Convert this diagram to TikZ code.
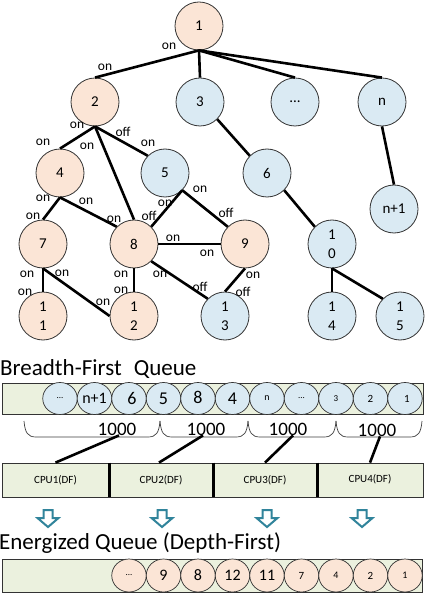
\documentclass[tikz,border=0pt]{standalone}
\usepackage{fontspec}
\setmainfont{Carlito}
\usetikzlibrary{shapes.geometric}
\definecolor{peachc}{HTML}{FBE5D6}
\definecolor{bluec}{HTML}{DAEAF3}
\definecolor{barc}{HTML}{EBF1DE}
\definecolor{tealc}{HTML}{31849B}
\begin{document}
\begin{tikzpicture}[x=1pt,y=-1pt,
  tn/.style={circle,draw=black!80,line width=0.8pt,minimum size=48pt,inner sep=0pt,align=center,font=\fontsize{15}{19}\selectfont},
  pn/.style={tn,fill=peachc},
  bn/.style={tn,fill=bluec},
  edge/.style={line width=2.6pt,black},
  lab/.style={inner sep=0pt,font=\fontsize{13.5}{14}\selectfont},
  barbox/.style={rectangle,draw=black!80,line width=0.8pt,fill=barc,inner sep=0pt},
  qn/.style={ellipse,draw=black!80,line width=0.7pt,minimum width=34.5pt,minimum height=32pt,inner sep=0pt},
  qb/.style={qn,fill=bluec},
  qp/.style={qn,fill=peachc},
  brace/.style={draw=black!75,line width=0.7pt},
  thou/.style={inner sep=0pt,font=\fontsize{19}{19}\selectfont},
  cpu/.style={rectangle,draw=black!80,line width=0.8pt,fill=barc,minimum height=34pt,inner sep=0pt,font=\fontsize{11}{11}\selectfont},
  ttl/.style={inner sep=0pt,anchor=base west,font=\fontsize{23}{23}\selectfont},
  darrow/.style={draw=tealc,line width=2pt,fill=white,line join=miter}
]
\path[use as bounding box,fill=white] (0,0) rectangle (426,593);

% ---------- tree ----------
\node[pn] (n1) at (199,26) {1};
\node[pn] (n2) at (95,102) {2};
\node[bn] (n3) at (200,102) {3};
\node[bn] (nd) at (295,102) {...};
\node[bn] (nn) at (382,102) {n};
\node[pn] (n4) at (60,173) {4};
\node[bn] (n5) at (165,173) {5};
\node[bn] (n6) at (267,173) {6};
\node[bn] (nn1) at (394,209) {n+1};
\node[pn] (n7) at (43,244) {7};
\node[pn] (n8) at (134,244) {8};
\node[pn] (n9) at (245,244) {9};
\node[bn] (n10) at (332,244) {1\\0};
\node[pn] (n11) at (43,316) {1\\1};
\node[pn] (n12) at (134,316) {1\\2};
\node[bn] (n13) at (225,316) {1\\3};
\node[bn] (n14) at (332,316) {1\\4};
\node[bn] (n15) at (400,316) {1\\5};

\draw[edge] (n1.south) -- (n2.north);
\draw[edge] (n1.south) -- (n3.north);
\draw[edge] (n1.south) -- (nd.north);
\draw[edge] (n1.south) -- (nn.north);
\draw[edge] (n2.south) -- (n4.north);
\draw[edge] (n2.south) -- (n8.north);
\draw[edge] (n2.south) -- (n5.135);
\draw[edge] (n3.-45) -- (n6.135);
\draw[edge] (nn.south) -- (nn1.north);
\draw[edge] (n4.south) -- (n7.north);
\draw[edge] (n4.south) -- (n8.135);
\draw[edge] (n5.-45) -- (n8.45);
\draw[edge] (n5.-45) -- (n9.135);
\draw[edge] (n6.-45) -- (n10.135);
\draw[edge] (n8.east) -- (n9.west);
\draw[edge] (n7.south) -- (n11.north);
\draw[edge] (n7.south) -- (n12.west);
\draw[edge] (n8.south) -- (n12.north);
\draw[edge] (n8.-45) -- (n13.135);
\draw[edge] (n9.south) -- (n13.north);
\draw[edge] (n10.south) -- (n14.north);
\draw[edge] (n10.south) -- (n15.135);

\node[lab] (l1) at (169,46) {on};
\node[lab] (l2) at (105,67) {on};
\node[lab] (l3) at (77,125) {on};
\node[lab] (l4) at (123,132) {off};
\node[lab] (l5) at (43,142) {on};
\node[lab] (l6) at (87,146) {on};
\node[lab] (l7) at (148,143) {on};
\node[lab] (l8) at (43,198) {on};
\node[lab] (l9) at (86,201) {on};
\node[lab] (l10) at (33,216) {on};
\node[lab] (l11) at (114,219) {on};
\node[lab] (l12) at (149,216) {off};
\node[lab] (l13) at (165,203) {on};
\node[lab] (l14) at (200,189) {on};
\node[lab] (l15) at (226,213) {off};
\node[lab] (l16) at (173,238) {on};
\node[lab] (l17) at (207,253) {on};
\node[lab] (l18) at (27,274) {on};
\node[lab] (l19) at (62,273) {on};
\node[lab] (l20) at (25,292) {on};
\node[lab] (l21) at (103,302) {on};
\node[lab] (l22) at (121,274) {on};
\node[lab] (l23) at (121,290) {on};
\node[lab] (l24) at (160,274) {on};
\node[lab] (l25) at (200,287) {off};
\node[lab] (l26) at (253,275) {on};
\node[lab] (l27) at (243,292) {off};

% ---------- breadth-first queue ----------
\node[ttl] (t1) at (0,375) {Breadth-First\hspace{0.3em} Queue};
\node[barbox,minimum width=421pt,minimum height=31pt,anchor=north west] (bq) at (2,383) {};
\node[qb,font=\fontsize{9}{9}\selectfont] (q11) at (60,398.5) {...};
\node[qb,font=\fontsize{16}{16}\selectfont] (q10) at (94.5,398.5) {n+1};
\node[qb,font=\fontsize{18}{18}\selectfont] (q9) at (129,398.5) {\hspace{6pt}6};
\node[qb,font=\fontsize{18}{18}\selectfont] (q8) at (163.5,398.5) {5};
\node[qb,font=\fontsize{18}{18}\selectfont] (q7) at (198,398.5) {\raisebox{2pt}{8}};
\node[qb,font=\fontsize{18}{18}\selectfont] (q6) at (232.5,398.5) {\raisebox{-2pt}{4}};
\node[qb,font=\fontsize{10}{10}\selectfont] (q5) at (267,398.5) {n};
\node[qb,font=\fontsize{9}{9}\selectfont] (q4) at (301.5,398.5) {...};
\node[qb,font=\fontsize{9}{9}\selectfont] (q3) at (336,398.5) {3};
\node[qb,font=\fontsize{11}{11}\selectfont] (q2) at (370.5,398.5) {2};
\node[qb,font=\fontsize{11}{11}\selectfont] (q1) at (405,398.5) {\hspace{4pt}1};

% braces
\draw[brace] (24,421) .. controls (25,433) and (28,437) .. (36,437) -- (148,437) .. controls (156,437) and (159,433) .. (160,421);
\draw[brace] (160,421) .. controls (161,433) and (164,437) .. (172,437) -- (236,437) .. controls (244,437) and (247,433) .. (248,421);
\draw[brace] (248,421) .. controls (249,433) and (252,437) .. (260,437) -- (324,437) .. controls (332,437) and (335,433) .. (336,421);
\draw[brace] (336,421) .. controls (337,433) and (340,437) .. (348,437) -- (410,437) .. controls (418,437) and (421,433) .. (422,421);
\node[thou] (b1) at (117,429) {1000};
\node[thou] (b2) at (206,429) {1000};
\node[thou] (b3) at (288,429) {1000};
\node[thou] (b4) at (377,430) {1000};

% CPU boxes
\node[cpu,minimum width=107pt] (c1) at (55.5,480) {CPU1(DF)};
\node[cpu,minimum width=104pt] (c2) at (161,480) {CPU2(DF)};
\node[cpu,minimum width=104pt] (c3) at (265,480) {CPU3(DF)};
\node[cpu,minimum width=106pt] (c4) at (370,480) {\raisebox{3pt}{CPU4(DF)}};
\draw[line width=2.2pt] (c1.north east) -- (c1.south east);
\draw[line width=2.2pt] (c2.north east) -- (c2.south east);
\draw[line width=2.2pt] (c3.north east) -- (c3.south east);

\draw[edge] ([xshift=2pt]b1.south) -- (c1.north);
\draw[edge] ([xshift=-3pt]b2.south) -- ([xshift=-2pt]c2.north);
\draw[edge] ([xshift=5pt]b3.south) -- (c3.north);
\draw[edge] ([xshift=3pt]b4.south) -- (c4.north);

% down arrows
\foreach \cx in {48,162,267,362}{
  \draw[darrow] (\cx-4.5,510) -- (\cx+4.5,510) -- (\cx+4.5,518) -- (\cx+10.5,518) -- (\cx,527) -- (\cx-10.5,518) -- (\cx-4.5,518) -- cycle;
}

% ---------- energized queue ----------
\node[ttl] (t2) at (-1,549) {Energized Queue (Depth-First)};
\node[barbox,minimum width=420pt,minimum height=33pt,anchor=north west] (eq) at (2,559) {};
\node[qp,minimum height=33pt,font=\fontsize{9}{9}\selectfont] (e9) at (129,575.5) {...};
\node[qp,minimum height=33pt,font=\fontsize{16}{16}\selectfont] (e8) at (163.5,575.5) {9};
\node[qp,minimum height=33pt,font=\fontsize{16}{16}\selectfont] (e7) at (198,575.5) {8};
\node[qp,minimum height=33pt,font=\fontsize{16}{16}\selectfont] (e6) at (232.5,575.5) {12};
\node[qp,minimum height=33pt,font=\fontsize{16}{16}\selectfont] (e5) at (267,575.5) {11};
\node[qp,minimum height=33pt,font=\fontsize{11}{11}\selectfont] (e4) at (301.5,575.5) {7};
\node[qp,minimum height=33pt,font=\fontsize{10}{10}\selectfont] (e3) at (336,575.5) {4};
\node[qp,minimum height=33pt,font=\fontsize{11}{11}\selectfont] (e2) at (370.5,575.5) {2};
\node[qp,minimum height=33pt,font=\fontsize{10}{10}\selectfont] (e1) at (405,575.5) {1};
\end{tikzpicture}
\end{document}
